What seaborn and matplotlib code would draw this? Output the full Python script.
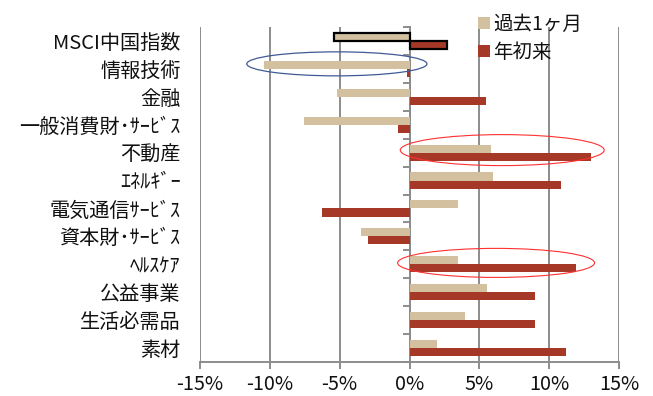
import matplotlib
matplotlib.use("Agg")
import matplotlib.pyplot as plt
import seaborn as sns
import pandas as pd
from matplotlib.patches import Ellipse, Patch
from matplotlib.ticker import FixedLocator, FuncFormatter

categories = ["MSCI中国指数", "情報技術", "金融", "一般消費財･ｻｰﾋﾞｽ", "不動産", "ｴﾈﾙｷﾞｰ",
              "電気通信ｻｰﾋﾞｽ", "資本財･ｻｰﾋﾞｽ", "ﾍﾙｽｹｱ", "公益事業", "生活必需品", "素材"]
series_names = ["過去1ヶ月", "年初来"]
past_month = [-5.4, -10.4, -5.2, -7.55, 5.85, 6.0, 3.5, -3.5, 3.5, 5.55, 3.95, 2.0]
ytd = [2.7, -0.2, 5.5, -0.85, 13.0, 10.85, -6.25, -2.95, 11.9, 9.0, 9.0, 11.2]
xticks = [-15, -10, -5, 0, 5, 10, 15]

colors = ["#D3C09F", "#A63828"]

sns.set_theme(style="white")
plt.rcParams['font.family'] = ['Noto Sans CJK JP', 'DejaVu Sans']

df = pd.DataFrame({
    "category": categories * 2,
    "series": [series_names[0]] * len(categories) + [series_names[1]] * len(categories),
    "value": past_month + ytd,
})

fig = plt.figure(figsize=(6.53, 3.96), dpi=100)
ax = fig.add_axes([200/653, 1-362/396, 419/653, 335/396])

sns.barplot(data=df, x="value", y="category", hue="series", order=categories,
            hue_order=series_names, palette=colors, orient="h", width=0.58,
            saturation=1, ax=ax, legend=False, edgecolor="none", linewidth=0)

# outline the index bars
for cont in ax.containers:
    cont[0].set_edgecolor("black")
    cont[0].set_linewidth(1.6)

ax.set_xlim(-15, 15)
ax.set_xticks(xticks)
ax.xaxis.set_major_formatter(FuncFormatter(lambda v, p: f"{v:.0f}%"))
ax.set_xlabel("")
ax.set_ylabel("")
ax.grid(axis="x", color="#8C8C8C", linewidth=1.4)
ax.grid(axis="y", visible=False)
ax.set_axisbelow(True)
for s in ["top", "right", "left"]:
    ax.spines[s].set_visible(False)
ax.spines["bottom"].set_color("#8C8C8C")
ax.spines["bottom"].set_linewidth(1.4)
ax.tick_params(axis="x", bottom=True, length=5, width=1.4, color="#8C8C8C",
               labelsize=14.3, labelcolor="#111111", pad=4)
ax.tick_params(axis="y", left=False, length=0, labelsize=14.5, labelcolor="#111111", pad=14)

# zero axis with category separators
n = len(categories)
bounds = [i - 0.5 for i in range(0, n + 1)]
sec = ax.secondary_yaxis(0.5)
sec.set_alignment("left")
sec.yaxis.set_major_locator(FixedLocator(bounds))
sec.set_yticklabels([])
sec.spines["left"].set_color("#8C8C8C")
sec.spines["left"].set_linewidth(1.4)
sec.tick_params(axis="y", length=5, width=1.4, color="#8C8C8C", direction="out")

# highlight ellipses
ax.add_patch(Ellipse((-5.2, 1 - 0.18), 12.9, 0.86, fill=False, edgecolor="#3F5B96",
                     linewidth=0.9, zorder=5))
ax.add_patch(Ellipse((6.64, 4 - 0.09), 14.6, 1.11, fill=False, edgecolor="#FF3030",
                     linewidth=0.8, zorder=5))
ax.add_patch(Ellipse((6.2, 8 - 0.05), 14.1, 1.04, fill=False, edgecolor="#FF3030",
                     linewidth=0.8, zorder=5))

handles = [Patch(facecolor=c, edgecolor="none") for c in colors]
fig.legend(handles, series_names, loc="upper left", bbox_to_anchor=(474/653, 1 - 10/396),
           frameon=False, fontsize=14, handlelength=0.6, handleheight=0.6,
           handletextpad=0.2, labelspacing=0.35, borderaxespad=0, borderpad=0.2,
           labelcolor="#111111")

fig.savefig("out.png", dpi=100)
